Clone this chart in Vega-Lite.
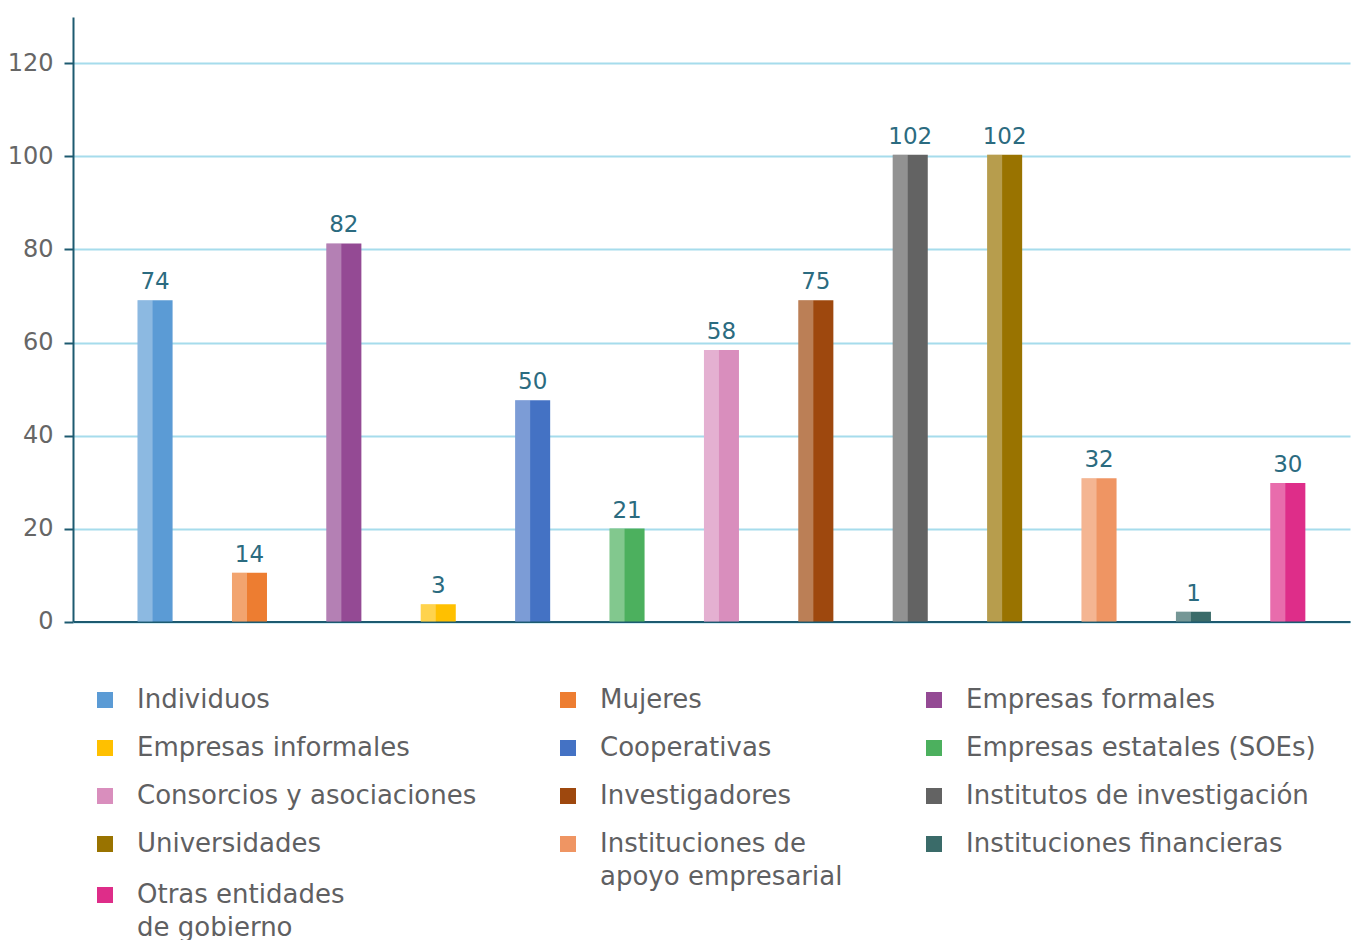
{
  "$schema": "https://vega.github.io/schema/vega-lite/v6.json",
  "autosize": {"type": "none"},
  "padding": {"left": 73, "top": 17, "right": 1, "bottom": 318},
  "width": 1277,
  "height": 604.5,
  "background": "white",
  "config": {"view": {"stroke": null}, "font": "DejaVu Sans", "style": {"guide-label": {"lineHeight": 33}}},
  "data": {
    "values": [
      {"cat": "Individuos", "bar": 69.1, "label": "74"},
      {"cat": "Mujeres", "bar": 10.5, "label": "14"},
      {"cat": "Empresas formales", "bar": 81.3, "label": "82"},
      {"cat": "Empresas informales", "bar": 3.7, "label": "3"},
      {"cat": "Cooperativas", "bar": 47.6, "label": "50"},
      {"cat": "Empresas estatales (SOEs)", "bar": 20.0, "label": "21"},
      {"cat": "Consorcios y asociaciones", "bar": 58.4, "label": "58"},
      {"cat": "Investigadores", "bar": 69.1, "label": "75"},
      {"cat": "Institutos de investigación", "bar": 100.4, "label": "102"},
      {"cat": "Universidades", "bar": 100.4, "label": "102"},
      {"cat": "Instituciones de apoyo empresarial", "bar": 30.8, "label": "32"},
      {"cat": "Instituciones financieras", "bar": 2.1, "label": "1"},
      {"cat": "Otras entidades de gobierno", "bar": 29.8, "label": "30"}
    ]
  },
  "encoding": {
    "x": {
      "field": "cat",
      "type": "nominal",
      "sort": null,
      "scale": {"type": "band", "paddingInner": 0, "paddingOuter": 0.264, "align": 0.7},
      "axis": {"labels": false, "ticks": false, "title": null, "domainColor": "#1d5a70", "domainWidth": 2}
    }
  },
  "layer": [
    {
      "mark": {"type": "bar", "width": 35, "strokeWidth": 0},
      "encoding": {
        "y": {
          "field": "bar",
          "type": "quantitative",
          "scale": {"domain": [0, 130], "nice": false},
          "axis": {
            "values": [0, 20, 40, 60, 80, 100, 120],
            "title": null,
            "grid": true,
            "gridColor": "#a6dcec",
            "gridWidth": 2,
            "domainColor": "#1d5a70",
            "domainWidth": 2,
            "tickColor": "#1d5a70",
            "tickSize": 9,
            "tickWidth": 2,
            "labelFontSize": 24,
            "labelColor": "#666666",
            "labelPadding": 11,
            "labelFont": "DejaVu Sans"
          }
        },
        "color": {
          "field": "cat",
          "type": "nominal",
          "sort": null,
          "scale": {
            "domain": ["Individuos", "Mujeres", "Empresas formales", "Empresas informales", "Cooperativas", "Empresas estatales (SOEs)", "Consorcios y asociaciones", "Investigadores", "Institutos de investigación", "Universidades", "Instituciones de apoyo empresarial", "Instituciones financieras", "Otras entidades de gobierno"],
            "range": ["#5b9bd5", "#ed7d31", "#944a94", "#ffc000", "#4472c4", "#4cb05e", "#d98ebd", "#9e480e", "#636363", "#997300", "#ef9563", "#3a6b69", "#de2d89"]
          },
          "legend": {
            "title": null,
            "orient": "none",
            "legendX": 19,
            "legendY": 670,
            "direction": "horizontal",
            "columns": 3,
            "values": ["Individuos", "Mujeres", "Empresas formales", "Empresas informales", "Cooperativas", "Empresas estatales (SOEs)", "Consorcios y asociaciones", "Investigadores", "Institutos de investigación", "Universidades", "Instituciones de apoyo empresarial", "Instituciones financieras"],
            "symbolType": "square",
            "symbolSize": 256,
            "symbolStrokeWidth": 0,
            "labelFontSize": 26,
            "labelColor": "#5f6062",
            "labelFont": "DejaVu Sans",
            "labelLimit": 600,
            "labelOffset": 19,
            "columnPadding": 78,
            "rowPadding": 22,
            "padding": 0,
            "gridAlign": "each",
            "labelExpr": "datum.label == 'Instituciones de apoyo empresarial' ? ['Instituciones de', 'apoyo empresarial'] : datum.label",
            "encode": {"labels": {"update": {"lineHeight": {"value": 33}}}}
          }
        },
        "stroke": {
          "field": "cat",
          "type": "nominal",
          "scale": {"domain": ["Otras entidades de gobierno"], "range": ["#de2d89"]},
          "legend": {
            "title": null,
            "orient": "none",
            "legendX": 19,
            "legendY": 865,
            "values": ["Otras entidades de gobierno"],
            "symbolType": "square",
            "symbolSize": 256,
            "symbolStrokeWidth": 0,
            "symbolFillColor": "#de2d89",
            "labelFontSize": 26,
            "labelColor": "#5f6062",
            "labelFont": "DejaVu Sans",
            "labelLimit": 600,
            "labelOffset": 19,
            "padding": 0,
            "labelExpr": "['Otras entidades', 'de gobierno']",
            "encode": {"labels": {"update": {"lineHeight": {"value": 33}}}}
          }
        }
      }
    },
    {
      "mark": {"type": "bar", "width": 15, "xOffset": -10, "fill": "white", "opacity": 0.3, "strokeWidth": 0},
      "encoding": {"y": {"field": "bar", "type": "quantitative"}}
    },
    {
      "mark": {"type": "text", "baseline": "alphabetic", "dy": -11, "fontSize": 23, "color": "#2b6b80", "font": "DejaVu Sans"},
      "encoding": {
        "y": {"field": "bar", "type": "quantitative"},
        "text": {"field": "label"}
      }
    }
  ]
}
